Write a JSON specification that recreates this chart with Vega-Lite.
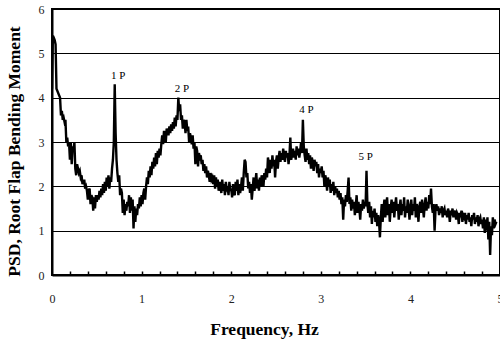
{
  "$schema": "https://vega.github.io/schema/vega-lite/v6.json",
  "width": 448,
  "height": 266,
  "autosize": {"type": "none"},
  "padding": {"left": 52, "top": 9, "right": 0, "bottom": 71},
  "background": "white",
  "config": {
    "view": {"stroke": "black", "strokeWidth": 2},
    "font": "Liberation Serif"
  },
  "resolve": {"axis": {"x": "independent"}},
  "datasets": {
    "psd": [
      {"f":0.00,"p":4.2},{"f":0.01,"p":5.4},{"f":0.02,"p":5.35},{"f":0.03,"p":5.3},{"f":0.04,"p":5.2},{"f":0.05,"p":4.2},{"f":0.06,"p":4.15},{"f":0.07,"p":4.1},{"f":0.08,"p":4.05},{"f":0.09,"p":4.0},
      {"f":0.10,"p":3.6},{"f":0.11,"p":3.7},{"f":0.12,"p":3.5},{"f":0.13,"p":3.55},{"f":0.14,"p":3.45},{"f":0.15,"p":3.5},{"f":0.16,"p":3.0},{"f":0.17,"p":3.1},{"f":0.18,"p":2.9},{"f":0.19,"p":3.0},
      {"f":0.20,"p":2.6},{"f":0.21,"p":3.0},{"f":0.22,"p":2.5},{"f":0.23,"p":2.9},{"f":0.24,"p":2.8},{"f":0.25,"p":3.0},{"f":0.26,"p":2.4},{"f":0.27,"p":2.25},{"f":0.28,"p":2.5},{"f":0.29,"p":2.4},
      {"f":0.30,"p":2.3},{"f":0.31,"p":2.35},{"f":0.32,"p":2.2},{"f":0.33,"p":2.25},{"f":0.34,"p":2.05},{"f":0.35,"p":2.1},{"f":0.36,"p":2.15},{"f":0.37,"p":1.95},{"f":0.38,"p":2.0},{"f":0.39,"p":1.9},
      {"f":0.40,"p":1.7},{"f":0.41,"p":1.9},{"f":0.42,"p":1.95},{"f":0.43,"p":1.6},{"f":0.44,"p":1.8},{"f":0.45,"p":1.75},{"f":0.46,"p":1.45},{"f":0.47,"p":1.75},{"f":0.48,"p":1.5},{"f":0.49,"p":1.8},
      {"f":0.50,"p":1.65},{"f":0.51,"p":1.8},{"f":0.52,"p":1.7},{"f":0.53,"p":1.9},{"f":0.54,"p":1.75},{"f":0.55,"p":1.95},{"f":0.56,"p":1.8},{"f":0.57,"p":2.05},{"f":0.58,"p":1.85},{"f":0.59,"p":2.1},
      {"f":0.60,"p":1.9},{"f":0.61,"p":2.2},{"f":0.62,"p":2.0},{"f":0.63,"p":2.25},{"f":0.64,"p":1.95},{"f":0.65,"p":2.2},{"f":0.66,"p":2.1},{"f":0.67,"p":2.4},{"f":0.68,"p":2.6},{"f":0.69,"p":3.0},
      {"f":0.70,"p":4.3},{"f":0.71,"p":3.2},{"f":0.72,"p":2.6},{"f":0.73,"p":2.3},{"f":0.74,"p":2.1},{"f":0.75,"p":2.25},{"f":0.76,"p":1.8},{"f":0.77,"p":1.95},{"f":0.78,"p":1.85},{"f":0.79,"p":1.4},
      {"f":0.80,"p":1.7},{"f":0.81,"p":1.35},{"f":0.82,"p":1.6},{"f":0.83,"p":1.45},{"f":0.84,"p":1.65},{"f":0.85,"p":1.55},{"f":0.86,"p":1.8},{"f":0.87,"p":1.4},{"f":0.88,"p":1.75},{"f":0.89,"p":1.45},
      {"f":0.90,"p":1.7},{"f":0.91,"p":1.05},{"f":0.92,"p":1.55},{"f":0.93,"p":1.2},{"f":0.94,"p":1.5},{"f":0.95,"p":1.35},{"f":0.96,"p":1.6},{"f":0.97,"p":1.5},{"f":0.98,"p":1.75},{"f":0.99,"p":1.55},
      {"f":1.00,"p":1.8},{"f":1.01,"p":1.6},{"f":1.02,"p":1.85},{"f":1.03,"p":1.95},{"f":1.04,"p":1.7},{"f":1.05,"p":2.0},{"f":1.06,"p":2.2},{"f":1.07,"p":2.05},{"f":1.08,"p":2.35},{"f":1.09,"p":2.2},
      {"f":1.10,"p":2.45},{"f":1.11,"p":2.25},{"f":1.12,"p":2.55},{"f":1.13,"p":2.4},{"f":1.14,"p":2.65},{"f":1.15,"p":2.45},{"f":1.16,"p":2.75},{"f":1.17,"p":2.5},{"f":1.18,"p":2.8},{"f":1.19,"p":2.65},
      {"f":1.20,"p":2.85},{"f":1.21,"p":2.7},{"f":1.22,"p":2.95},{"f":1.23,"p":3.15},{"f":1.24,"p":2.95},{"f":1.25,"p":3.25},{"f":1.26,"p":3.1},{"f":1.27,"p":3.0},{"f":1.28,"p":3.3},{"f":1.29,"p":3.25},
      {"f":1.30,"p":3.15},{"f":1.31,"p":3.35},{"f":1.32,"p":3.2},{"f":1.33,"p":3.4},{"f":1.34,"p":3.25},{"f":1.35,"p":3.45},{"f":1.36,"p":3.3},{"f":1.37,"p":3.55},{"f":1.38,"p":3.35},{"f":1.39,"p":3.6},
      {"f":1.40,"p":3.5},{"f":1.41,"p":4.0},{"f":1.42,"p":3.7},{"f":1.43,"p":3.85},{"f":1.44,"p":3.5},{"f":1.45,"p":3.6},{"f":1.46,"p":3.3},{"f":1.47,"p":3.5},{"f":1.48,"p":3.45},{"f":1.49,"p":3.2},
      {"f":1.50,"p":3.5},{"f":1.51,"p":3.25},{"f":1.52,"p":3.35},{"f":1.53,"p":3.0},{"f":1.54,"p":3.2},{"f":1.55,"p":3.1},{"f":1.56,"p":2.95},{"f":1.57,"p":3.15},{"f":1.58,"p":2.85},{"f":1.59,"p":3.0},
      {"f":1.60,"p":2.5},{"f":1.61,"p":2.9},{"f":1.62,"p":2.8},{"f":1.63,"p":2.45},{"f":1.64,"p":2.75},{"f":1.65,"p":2.65},{"f":1.66,"p":2.7},{"f":1.67,"p":2.5},{"f":1.68,"p":2.6},{"f":1.69,"p":2.35},
      {"f":1.70,"p":2.5},{"f":1.71,"p":2.3},{"f":1.72,"p":2.45},{"f":1.73,"p":2.2},{"f":1.74,"p":2.35},{"f":1.75,"p":2.25},{"f":1.76,"p":2.1},{"f":1.77,"p":2.3},{"f":1.78,"p":2.15},{"f":1.79,"p":2.2},
      {"f":1.80,"p":2.05},{"f":1.81,"p":2.25},{"f":1.82,"p":1.95},{"f":1.83,"p":2.2},{"f":1.84,"p":2.0},{"f":1.85,"p":2.15},{"f":1.86,"p":1.9},{"f":1.87,"p":2.1},{"f":1.88,"p":2.0},{"f":1.89,"p":1.85},
      {"f":1.90,"p":2.15},{"f":1.91,"p":1.9},{"f":1.92,"p":2.05},{"f":1.93,"p":1.8},{"f":1.94,"p":2.1},{"f":1.95,"p":1.95},{"f":1.96,"p":2.0},{"f":1.97,"p":1.8},{"f":1.98,"p":2.1},{"f":1.99,"p":1.9},
      {"f":2.00,"p":1.95},{"f":2.01,"p":1.75},{"f":2.02,"p":2.05},{"f":2.03,"p":1.85},{"f":2.04,"p":1.8},{"f":2.05,"p":2.1},{"f":2.06,"p":1.9},{"f":2.07,"p":2.15},{"f":2.08,"p":1.8},{"f":2.09,"p":2.05},
      {"f":2.10,"p":1.85},{"f":2.11,"p":2.0},{"f":2.12,"p":2.2},{"f":2.13,"p":1.9},{"f":2.14,"p":2.3},{"f":2.15,"p":2.6},{"f":2.16,"p":2.55},{"f":2.17,"p":2.2},{"f":2.18,"p":2.3},{"f":2.19,"p":1.95},
      {"f":2.20,"p":2.1},{"f":2.21,"p":1.85},{"f":2.22,"p":2.05},{"f":2.23,"p":1.7},{"f":2.24,"p":1.95},{"f":2.25,"p":2.2},{"f":2.26,"p":1.9},{"f":2.27,"p":2.1},{"f":2.28,"p":2.3},{"f":2.29,"p":1.95},
      {"f":2.30,"p":2.15},{"f":2.31,"p":1.9},{"f":2.32,"p":2.2},{"f":2.33,"p":2.0},{"f":2.34,"p":2.25},{"f":2.35,"p":2.1},{"f":2.36,"p":2.0},{"f":2.37,"p":2.3},{"f":2.38,"p":2.15},{"f":2.39,"p":2.4},
      {"f":2.40,"p":2.2},{"f":2.41,"p":2.65},{"f":2.42,"p":2.5},{"f":2.43,"p":2.3},{"f":2.44,"p":2.6},{"f":2.45,"p":2.4},{"f":2.46,"p":2.7},{"f":2.47,"p":2.45},{"f":2.48,"p":2.6},{"f":2.49,"p":2.2},
      {"f":2.50,"p":2.55},{"f":2.51,"p":2.7},{"f":2.52,"p":2.4},{"f":2.53,"p":2.65},{"f":2.54,"p":2.8},{"f":2.55,"p":2.55},{"f":2.56,"p":2.75},{"f":2.57,"p":2.6},{"f":2.58,"p":2.85},{"f":2.59,"p":2.7},
      {"f":2.60,"p":2.55},{"f":2.61,"p":2.8},{"f":2.62,"p":2.65},{"f":2.63,"p":2.75},{"f":2.64,"p":2.5},{"f":2.65,"p":2.7},{"f":2.66,"p":3.1},{"f":2.67,"p":2.6},{"f":2.68,"p":2.75},{"f":2.69,"p":2.85},
      {"f":2.70,"p":2.65},{"f":2.71,"p":2.8},{"f":2.72,"p":2.6},{"f":2.73,"p":2.9},{"f":2.74,"p":2.7},{"f":2.75,"p":2.85},{"f":2.76,"p":2.65},{"f":2.77,"p":2.8},{"f":2.78,"p":3.0},{"f":2.79,"p":2.75},
      {"f":2.80,"p":3.5},{"f":2.81,"p":2.9},{"f":2.82,"p":2.7},{"f":2.83,"p":2.55},{"f":2.84,"p":2.85},{"f":2.85,"p":2.6},{"f":2.86,"p":2.75},{"f":2.87,"p":2.5},{"f":2.88,"p":2.7},{"f":2.89,"p":2.4},
      {"f":2.90,"p":2.65},{"f":2.91,"p":2.55},{"f":2.92,"p":2.35},{"f":2.93,"p":2.6},{"f":2.94,"p":2.45},{"f":2.95,"p":2.55},{"f":2.96,"p":2.3},{"f":2.97,"p":2.5},{"f":2.98,"p":2.2},{"f":2.99,"p":2.4},
      {"f":3.00,"p":2.3},{"f":3.01,"p":2.45},{"f":3.02,"p":2.2},{"f":3.03,"p":2.35},{"f":3.04,"p":2.0},{"f":3.05,"p":2.25},{"f":3.06,"p":2.15},{"f":3.07,"p":1.9},{"f":3.08,"p":2.2},{"f":3.09,"p":2.0},
      {"f":3.10,"p":2.15},{"f":3.11,"p":1.85},{"f":3.12,"p":2.05},{"f":3.13,"p":1.9},{"f":3.14,"p":2.1},{"f":3.15,"p":1.8},{"f":3.16,"p":2.0},{"f":3.17,"p":1.85},{"f":3.18,"p":1.95},{"f":3.19,"p":1.75},
      {"f":3.20,"p":1.9},{"f":3.21,"p":1.7},{"f":3.22,"p":1.85},{"f":3.23,"p":1.6},{"f":3.24,"p":1.75},{"f":3.25,"p":1.25},{"f":3.26,"p":1.7},{"f":3.27,"p":1.55},{"f":3.28,"p":1.8},{"f":3.29,"p":1.65},
      {"f":3.30,"p":1.9},{"f":3.31,"p":2.2},{"f":3.32,"p":1.6},{"f":3.33,"p":1.75},{"f":3.34,"p":1.45},{"f":3.35,"p":1.7},{"f":3.36,"p":1.5},{"f":3.37,"p":1.65},{"f":3.38,"p":1.35},{"f":3.39,"p":1.55},
      {"f":3.40,"p":1.8},{"f":3.41,"p":1.4},{"f":3.42,"p":1.65},{"f":3.43,"p":1.5},{"f":3.44,"p":1.25},{"f":3.45,"p":1.6},{"f":3.46,"p":1.45},{"f":3.47,"p":1.7},{"f":3.48,"p":1.5},{"f":3.49,"p":1.65},
      {"f":3.50,"p":1.55},{"f":3.51,"p":2.35},{"f":3.52,"p":1.6},{"f":3.53,"p":1.4},{"f":3.54,"p":1.65},{"f":3.55,"p":1.3},{"f":3.56,"p":1.55},{"f":3.57,"p":1.15},{"f":3.58,"p":1.45},{"f":3.59,"p":1.3},
      {"f":3.60,"p":1.5},{"f":3.61,"p":1.2},{"f":3.62,"p":1.4},{"f":3.63,"p":1.1},{"f":3.64,"p":1.35},{"f":3.65,"p":1.2},{"f":3.66,"p":0.85},{"f":3.67,"p":1.3},{"f":3.68,"p":1.6},{"f":3.69,"p":1.2},
      {"f":3.70,"p":1.5},{"f":3.71,"p":1.7},{"f":3.72,"p":1.3},{"f":3.73,"p":1.55},{"f":3.74,"p":1.75},{"f":3.75,"p":1.35},{"f":3.76,"p":1.6},{"f":3.77,"p":1.2},{"f":3.78,"p":1.5},{"f":3.79,"p":1.7},
      {"f":3.80,"p":1.4},{"f":3.81,"p":1.65},{"f":3.82,"p":1.3},{"f":3.83,"p":1.55},{"f":3.84,"p":1.75},{"f":3.85,"p":1.45},{"f":3.86,"p":1.6},{"f":3.87,"p":1.25},{"f":3.88,"p":1.55},{"f":3.89,"p":1.7},
      {"f":3.90,"p":1.35},{"f":3.91,"p":1.6},{"f":3.92,"p":1.45},{"f":3.93,"p":1.75},{"f":3.94,"p":1.3},{"f":3.95,"p":1.55},{"f":3.96,"p":1.4},{"f":3.97,"p":1.7},{"f":3.98,"p":1.5},{"f":3.99,"p":1.25},
      {"f":4.00,"p":1.55},{"f":4.01,"p":1.7},{"f":4.02,"p":1.35},{"f":4.03,"p":1.6},{"f":4.04,"p":1.45},{"f":4.05,"p":1.75},{"f":4.06,"p":1.3},{"f":4.07,"p":1.6},{"f":4.08,"p":1.5},{"f":4.09,"p":1.2},
      {"f":4.10,"p":1.55},{"f":4.11,"p":1.65},{"f":4.12,"p":1.4},{"f":4.13,"p":1.7},{"f":4.14,"p":1.5},{"f":4.15,"p":1.3},{"f":4.16,"p":1.6},{"f":4.17,"p":1.75},{"f":4.18,"p":1.45},{"f":4.19,"p":1.65},
      {"f":4.20,"p":1.5},{"f":4.21,"p":1.8},{"f":4.22,"p":1.6},{"f":4.23,"p":1.95},{"f":4.24,"p":1.55},{"f":4.25,"p":1.4},{"f":4.26,"p":1.6},{"f":4.27,"p":1.0},{"f":4.28,"p":1.45},{"f":4.29,"p":1.6},
      {"f":4.30,"p":1.45},{"f":4.31,"p":1.55},{"f":4.32,"p":1.35},{"f":4.33,"p":1.5},{"f":4.34,"p":1.4},{"f":4.35,"p":1.55},{"f":4.36,"p":1.3},{"f":4.37,"p":1.45},{"f":4.38,"p":1.5},{"f":4.39,"p":1.35},
      {"f":4.40,"p":1.45},{"f":4.41,"p":1.3},{"f":4.42,"p":1.5},{"f":4.43,"p":1.4},{"f":4.44,"p":1.2},{"f":4.45,"p":1.45},{"f":4.46,"p":1.35},{"f":4.47,"p":1.5},{"f":4.48,"p":1.3},{"f":4.49,"p":1.4},
      {"f":4.50,"p":1.45},{"f":4.51,"p":1.25},{"f":4.52,"p":1.4},{"f":4.53,"p":1.35},{"f":4.54,"p":1.15},{"f":4.55,"p":1.4},{"f":4.56,"p":1.3},{"f":4.57,"p":1.45},{"f":4.58,"p":1.2},{"f":4.59,"p":1.35},
      {"f":4.60,"p":1.3},{"f":4.61,"p":1.4},{"f":4.62,"p":1.15},{"f":4.63,"p":1.35},{"f":4.64,"p":1.25},{"f":4.65,"p":1.4},{"f":4.66,"p":1.2},{"f":4.67,"p":1.3},{"f":4.68,"p":1.1},{"f":4.69,"p":1.35},
      {"f":4.70,"p":1.25},{"f":4.71,"p":1.4},{"f":4.72,"p":1.15},{"f":4.73,"p":1.3},{"f":4.74,"p":1.2},{"f":4.75,"p":1.35},{"f":4.76,"p":1.1},{"f":4.77,"p":1.25},{"f":4.78,"p":1.3},{"f":4.79,"p":1.15},
      {"f":4.80,"p":1.25},{"f":4.81,"p":1.05},{"f":4.82,"p":1.3},{"f":4.83,"p":0.95},{"f":4.84,"p":1.25},{"f":4.85,"p":1.0},{"f":4.86,"p":1.3},{"f":4.87,"p":0.8},{"f":4.88,"p":1.2},{"f":4.89,"p":0.45},
      {"f":4.90,"p":1.1},{"f":4.91,"p":0.9},{"f":4.92,"p":1.3},{"f":4.93,"p":1.05},{"f":4.94,"p":1.25},{"f":4.95,"p":1.15},{"f":4.96,"p":1.2}
    ],
    "notes": [
      {"f":0.74,"p":4.48,"t":"1 P"},
      {"f":1.45,"p":4.2,"t":"2 P"},
      {"f":2.84,"p":3.72,"t":"4 P"},
      {"f":3.50,"p":2.66,"t":"5 P"}
    ]
  },
  "layer": [
    {
      "data": {"name": "psd"},
      "mark": {"type": "line", "color": "black", "strokeWidth": 2.4, "clip": true},
      "encoding": {
        "x": {
          "field": "f", "type": "quantitative",
          "scale": {"domain": [0, 5], "nice": false},
          "axis": {
            "orient": "bottom",
            "title": "Frequency, Hz",
            "values": [0,1,2,3,4,5],
            "format": "d",
            "grid": false,
            "domainColor": "black", "domainWidth": 2,
            "ticks": false,
            "labelFont": "Liberation Serif", "labelFontSize": 12, "labelColor": "#222",
            "labelPadding": 18, "labelFlush": false,
            "titleFont": "Liberation Serif", "titleFontSize": 17.5, "titleFontWeight": "bold", "titleColor": "black",
            "titleX": 212, "titleY": 54, "titleBaseline": "middle"
          }
        },
        "y": {
          "field": "p", "type": "quantitative",
          "scale": {"domain": [0, 6], "nice": false},
          "axis": {
            "title": "PSD, Root Flap Bending Moment",
            "values": [0,1,2,3,4,5,6],
            "grid": true, "gridColor": "black", "gridWidth": 1, "gridOpacity": 1,
            "domainColor": "black", "domainWidth": 2,
            "ticks": false,
            "labelFont": "Liberation Serif", "labelFontSize": 12, "labelColor": "#222",
            "labelPadding": 8,
            "titleFont": "Liberation Serif", "titleFontSize": 17.5, "titleFontWeight": "bold", "titleColor": "black",
            "titleX": -38, "titleY": 142, "titleBaseline": "middle"
          }
        }
      }
    },
    {
      "data": {"name": "notes"},
      "mark": {"type": "text", "font": "Liberation Serif", "fontSize": 11, "color": "black", "baseline": "middle"},
      "encoding": {
        "x": {
          "field": "f", "type": "quantitative",
          "scale": {"domain": [0, 5], "nice": false},
          "axis": {
            "orient": "top",
            "offset": -266,
            "title": null,
            "values": [0.2,0.4,0.6,0.8,1,1.2,1.4,1.6,1.8,2,2.2,2.4,2.6,2.8,3,3.2,3.4,3.6,3.8,4,4.2,4.4,4.6,4.8],
            "labels": false,
            "domain": false,
            "grid": false,
            "ticks": true,
            "tickColor": "black", "tickWidth": 1.5, "tickSize": 4
          }
        },
        "y": {"field": "p", "type": "quantitative"},
        "text": {"field": "t"}
      }
    }
  ]
}
